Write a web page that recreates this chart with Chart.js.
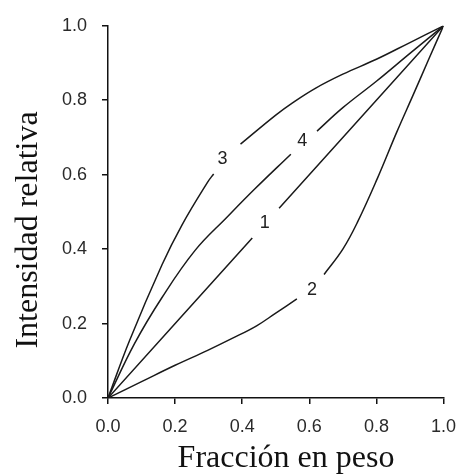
<!DOCTYPE html>
<html>
<head>
<meta charset="utf-8">
<script src="https://cdn.jsdelivr.net/npm/chart.js@4.4.0/dist/chart.umd.min.js"></script>
<style>
  html, body { margin: 0; padding: 0; background: #fff; }
  #wrap { width: 468px; height: 475px; }
</style>
</head>
<body>
<div id="wrap"><canvas id="grafico" width="468" height="475"></canvas></div>
<script>
// Datos (fraccion en peso -> intensidad relativa)
// null = hueco donde va la etiqueta de la curva
const curva1X = [0, 0.43, 0.47, 0.51, 1.0];
const curva1Y = [0, 0.43, null, 0.51, 1.0];

const curva2X = [0, 0.1, 0.2, 0.297, 0.37, 0.443, 0.5, 0.563, 0.6, 0.644, 0.7, 0.744, 0.803, 0.861, 0.91, 0.955, 1.0];
const curva2Y = [0, 0.044, 0.088, 0.128, 0.16, 0.194, 0.228, 0.266, null, 0.332, 0.4, 0.473, 0.59, 0.715, 0.815, 0.908, 1.0];

const curva3X = [0, 0.064, 0.161, 0.22, 0.297, 0.315, 0.35, 0.395, 0.5, 0.55, 0.618, 0.7, 0.8, 0.9, 1.0];
const curva3Y = [0, 0.154, 0.358, 0.464, 0.58, 0.602, null, 0.682, 0.76, 0.793, 0.832, 0.87, 0.91, 0.955, 1.0];

const curva4X = [0, 0.079, 0.161, 0.259, 0.356, 0.438, 0.545, 0.58, 0.623, 0.7, 0.8, 0.9, 1.0];
const curva4Y = [0, 0.146, 0.27, 0.396, 0.487, 0.562, 0.655, null, 0.717, 0.78, 0.851, 0.926, 1.0];

// Etiquetas de las curvas
const etiquetas = ['1', '2', '3', '4'];
const etiquetasX = [0.467, 0.608, 0.341, 0.579];
const etiquetasY = [0.469, 0.289, 0.642, 0.69];

const ticksValores = [0, 0.2, 0.4, 0.6, 0.8, 1.0];

function puntos(xs, ys) {
  return xs.map((x, i) => ({ x: x, y: ys[i] }));
}

function serie(nombre, xs, ys) {
  return {
    label: nombre,
    data: puntos(xs, ys),
    borderColor: '#1a1a1a',
    borderWidth: 1.5,
    pointRadius: 0,
    tension: 0.4,
    spanGaps: false,
    fill: false
  };
}

// Plugin para los numeros de las curvas y los titulos de los ejes
const textosExtra = {
  id: 'textosExtra',
  afterDraw(chart) {
    const ctx = chart.ctx;
    const sx = chart.scales.x;
    const sy = chart.scales.y;
    ctx.save();
    ctx.fillStyle = '#222';
    ctx.font = '18px "Liberation Sans", Arial, sans-serif';
    ctx.textAlign = 'center';
    ctx.textBaseline = 'middle';
    etiquetas.forEach((t, i) => {
      ctx.fillText(t, sx.getPixelForValue(etiquetasX[i]), sy.getPixelForValue(etiquetasY[i]));
    });

    ctx.fillStyle = '#111';
    ctx.font = '32px "Liberation Serif", "Times New Roman", serif';
    ctx.textBaseline = 'alphabetic';
    ctx.fillText('Fracción en peso', 286, 467);

    ctx.translate(37, 230);
    ctx.rotate(-Math.PI / 2);
    ctx.fillText('Intensidad relativa', 0, 0);
    ctx.restore();
  }
};

const fuenteTicks = {
  family: '"Liberation Sans", Arial, sans-serif',
  size: 18
};

const gridEjes = {
  display: true,
  drawOnChartArea: false,
  drawTicks: true,
  tickLength: 6,
  color: '#111',
  lineWidth: 1.5
};

new Chart(document.getElementById('grafico'), {
  type: 'line',
  data: {
    datasets: [
      serie('1', curva1X, curva1Y),
      serie('2', curva2X, curva2Y),
      serie('3', curva3X, curva3Y),
      serie('4', curva4X, curva4Y)
    ]
  },
  options: {
    responsive: false,
    devicePixelRatio: 1,
    animation: false,
    layout: {
      padding: { left: 0, right: 17, top: 22, bottom: 0 }
    },
    plugins: {
      legend: { display: false },
      tooltip: { enabled: false }
    },
    scales: {
      x: {
        type: 'linear',
        min: 0,
        max: 1,
        afterBuildTicks: (s) => { s.ticks = ticksValores.map(v => ({ value: v })); },
        afterFit: (s) => { s.height = 77; },
        border: { display: true, color: '#111', width: 1.5 },
        grid: gridEjes,
        ticks: {
          color: '#2a2a2a',
          font: fuenteTicks,
          padding: 12,
          maxRotation: 0,
          callback: (v) => Number(v).toFixed(1)
        }
      },
      y: {
        type: 'linear',
        min: 0,
        max: 1,
        afterBuildTicks: (s) => { s.ticks = ticksValores.map(v => ({ value: v })); },
        afterFit: (s) => { s.width = 108; },
        border: { display: true, color: '#111', width: 1.5 },
        grid: gridEjes,
        ticks: {
          color: '#2a2a2a',
          font: fuenteTicks,
          padding: 15,
          callback: (v) => Number(v).toFixed(1)
        }
      }
    }
  },
  plugins: [textosExtra]
});
</script>
</body>
</html>
